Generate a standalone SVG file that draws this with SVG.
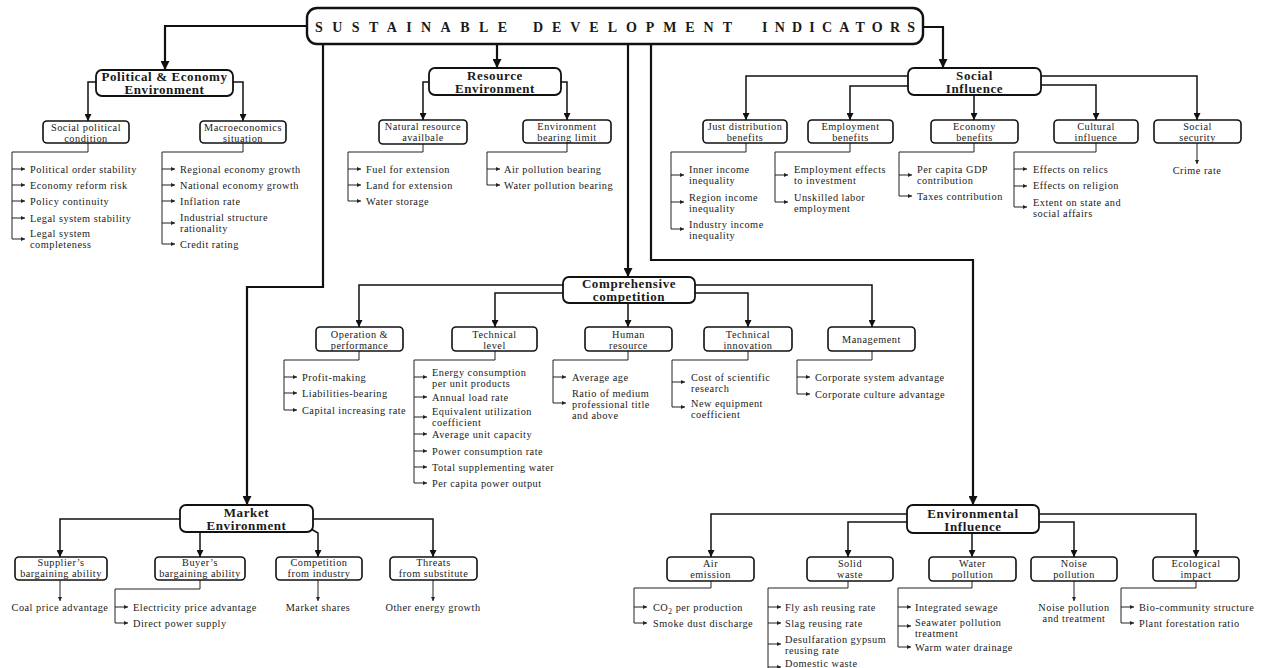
<svg xmlns="http://www.w3.org/2000/svg" width="1265" height="668" viewBox="0 0 1265 668">
<style>
.box{fill:#fff;stroke:#111;stroke-width:1.6}
.cat{stroke-width:1.8}
.rootb{stroke-width:2.4}
.c1{fill:none;stroke:#111;stroke-width:2.2}
.c2{fill:none;stroke:#111;stroke-width:1.5}
.c3{fill:none;stroke:#222;stroke-width:1}
text{font-family:"Liberation Serif","Times New Roman",serif;fill:#1a1a1a}
.t{font-size:10.3px;letter-spacing:0.5px}
.s{font-size:10.3px;letter-spacing:0.5px;text-anchor:middle}
.m{font-size:10.3px;letter-spacing:0.5px;text-anchor:middle}
.b{font-size:13px;font-weight:bold;letter-spacing:0.6px;text-anchor:middle}
.rt{font-size:14px;font-weight:bold}
</style>
<defs>
<marker id="aL" viewBox="0 0 10 10" refX="10" refY="5" markerWidth="9" markerHeight="9" markerUnits="userSpaceOnUse" orient="auto"><path d="M0,0 L10,5 L0,10 z" fill="#111"/></marker>
<marker id="aM" viewBox="0 0 10 10" refX="10" refY="5" markerWidth="7" markerHeight="7" markerUnits="userSpaceOnUse" orient="auto"><path d="M0,0 L10,5 L0,10 z" fill="#111"/></marker>
<marker id="aS" viewBox="0 0 10 10" refX="10" refY="5" markerWidth="4.5" markerHeight="4.5" markerUnits="userSpaceOnUse" orient="auto"><path d="M0,0 L10,5 L0,10 z" fill="#222"/></marker>
</defs>
<rect width="1265" height="668" fill="#fff"/>

<g id="connectors">
<path class="c1" marker-end="url(#aL)" d="M307,26 H165 V70"/>
<path class="c1" marker-end="url(#aL)" d="M497,44 V68"/>
<path class="c1" marker-end="url(#aL)" d="M923,27 H943 V68"/>
<path class="c1" marker-end="url(#aL)" d="M323,44 V287 H247 V505"/>
<path class="c1" marker-end="url(#aL)" d="M628,44 V277"/>
<path class="c1" marker-end="url(#aL)" d="M651,44 V260 H973 V505"/>
<path class="c2" marker-end="url(#aM)" d="M96,82 H88 V121"/>
<path class="c2" marker-end="url(#aM)" d="M233,82 H243 V121"/>
<path class="c2" marker-end="url(#aM)" d="M429,82 H423 V120"/>
<path class="c2" marker-end="url(#aM)" d="M561,82 H567 V120"/>
<path class="c2" marker-end="url(#aM)" d="M908,76 H746 V120"/>
<path class="c2" marker-end="url(#aM)" d="M908,86 H850 V120"/>
<path class="c2" marker-end="url(#aM)" d="M974,95 V120"/>
<path class="c2" marker-end="url(#aM)" d="M1041,76 H1197 V120"/>
<path class="c2" marker-end="url(#aM)" d="M1041,85 H1096 V120"/>
<path class="c2" marker-end="url(#aM)" d="M563,285 H359 V327"/>
<path class="c2" marker-end="url(#aM)" d="M563,293 H495 V327"/>
<path class="c2" marker-end="url(#aM)" d="M628,303 V327"/>
<path class="c2" marker-end="url(#aM)" d="M695,285 H872 V327"/>
<path class="c2" marker-end="url(#aM)" d="M695,293 H748 V327"/>
<path class="c2" marker-end="url(#aM)" d="M180,519 H60 V557"/>
<path class="c2" marker-end="url(#aM)" d="M200,532 V557"/>
<path class="c2" marker-end="url(#aM)" d="M313,519 H433 V557"/>
<path class="c2" marker-end="url(#aM)" d="M311,529 L318,533 V557"/>
<path class="c2" marker-end="url(#aM)" d="M907,514 H711 V557"/>
<path class="c2" marker-end="url(#aM)" d="M907,522 H848 V557"/>
<path class="c2" marker-end="url(#aM)" d="M972,533 V557"/>
<path class="c2" marker-end="url(#aM)" d="M1039,514 H1196 V557"/>
<path class="c2" marker-end="url(#aM)" d="M1039,522 H1074 V557"/>
<path class="c3" d="M88,143 V152 H12 V239"/>
<path class="c3" marker-end="url(#aS)" d="M12,169 H25"/>
<path class="c3" marker-end="url(#aS)" d="M12,185 H25"/>
<path class="c3" marker-end="url(#aS)" d="M12,201 H25"/>
<path class="c3" marker-end="url(#aS)" d="M12,218 H25"/>
<path class="c3" marker-end="url(#aS)" d="M12,239 H25"/>
<path class="c3" d="M243,143 V152 H162 V244"/>
<path class="c3" marker-end="url(#aS)" d="M162,169 H175"/>
<path class="c3" marker-end="url(#aS)" d="M162,185 H175"/>
<path class="c3" marker-end="url(#aS)" d="M162,201 H175"/>
<path class="c3" marker-end="url(#aS)" d="M162,223 H175"/>
<path class="c3" marker-end="url(#aS)" d="M162,244 H175"/>
<path class="c3" d="M423,144 V152 H348 V201"/>
<path class="c3" marker-end="url(#aS)" d="M348,169 H361"/>
<path class="c3" marker-end="url(#aS)" d="M348,185 H361"/>
<path class="c3" marker-end="url(#aS)" d="M348,201 H361"/>
<path class="c3" d="M567,143 V152 H487 V185"/>
<path class="c3" marker-end="url(#aS)" d="M487,169 H500"/>
<path class="c3" marker-end="url(#aS)" d="M487,185 H500"/>
<path class="c3" d="M746,143 V152 H671 V229"/>
<path class="c3" marker-end="url(#aS)" d="M671,175 H684"/>
<path class="c3" marker-end="url(#aS)" d="M671,202 H684"/>
<path class="c3" marker-end="url(#aS)" d="M671,229 H684"/>
<path class="c3" d="M850,143 V152 H775 V202"/>
<path class="c3" marker-end="url(#aS)" d="M775,175 H788"/>
<path class="c3" marker-end="url(#aS)" d="M775,202 H788"/>
<path class="c3" d="M974,143 V152 H899 V196"/>
<path class="c3" marker-end="url(#aS)" d="M899,175 H912"/>
<path class="c3" marker-end="url(#aS)" d="M899,196 H912"/>
<path class="c3" d="M1096,143 V152 H1014 V207"/>
<path class="c3" marker-end="url(#aS)" d="M1014,169 H1027"/>
<path class="c3" marker-end="url(#aS)" d="M1014,186 H1027"/>
<path class="c3" marker-end="url(#aS)" d="M1014,207 H1027"/>
<path class="c3" marker-end="url(#aS)" d="M1197,143 V164"/>
<path class="c3" d="M359,351 V360 H284 V410"/>
<path class="c3" marker-end="url(#aS)" d="M284,377 H297"/>
<path class="c3" marker-end="url(#aS)" d="M284,393 H297"/>
<path class="c3" marker-end="url(#aS)" d="M284,410 H297"/>
<path class="c3" d="M495,351 V360 H414 V483"/>
<path class="c3" marker-end="url(#aS)" d="M414,377 H427"/>
<path class="c3" marker-end="url(#aS)" d="M414,397 H427"/>
<path class="c3" marker-end="url(#aS)" d="M414,417 H427"/>
<path class="c3" marker-end="url(#aS)" d="M414,434 H427"/>
<path class="c3" marker-end="url(#aS)" d="M414,451 H427"/>
<path class="c3" marker-end="url(#aS)" d="M414,467 H427"/>
<path class="c3" marker-end="url(#aS)" d="M414,483 H427"/>
<path class="c3" d="M628,351 V360 H553 V403"/>
<path class="c3" marker-end="url(#aS)" d="M553,377 H566"/>
<path class="c3" marker-end="url(#aS)" d="M553,403 H566"/>
<path class="c3" d="M748,351 V360 H672 V407"/>
<path class="c3" marker-end="url(#aS)" d="M672,382 H685"/>
<path class="c3" marker-end="url(#aS)" d="M672,407 H685"/>
<path class="c3" d="M872,351 V360 H797 V394"/>
<path class="c3" marker-end="url(#aS)" d="M797,377 H810"/>
<path class="c3" marker-end="url(#aS)" d="M797,394 H810"/>
<path class="c3" marker-end="url(#aS)" d="M60,580 V601"/>
<path class="c3" d="M200,580 V589 H115 V623"/>
<path class="c3" marker-end="url(#aS)" d="M115,607 H128"/>
<path class="c3" marker-end="url(#aS)" d="M115,623 H128"/>
<path class="c3" marker-end="url(#aS)" d="M318,580 V601"/>
<path class="c3" marker-end="url(#aS)" d="M433,580 V601"/>
<path class="c3" d="M711,581 V588 H634 V623"/>
<path class="c3" marker-end="url(#aS)" d="M634,607 H647"/>
<path class="c3" marker-end="url(#aS)" d="M634,623 H647"/>
<path class="c3" d="M848,581 V588 H768 V668"/>
<path class="c3" marker-end="url(#aS)" d="M768,607 H781"/>
<path class="c3" marker-end="url(#aS)" d="M768,623 H781"/>
<path class="c3" marker-end="url(#aS)" d="M768,644 H781"/>
<path class="c3" marker-end="url(#aS)" d="M768,667 H781"/>
<path class="c3" d="M972,581 V588 H898 V647"/>
<path class="c3" marker-end="url(#aS)" d="M898,607 H911"/>
<path class="c3" marker-end="url(#aS)" d="M898,626 H911"/>
<path class="c3" marker-end="url(#aS)" d="M898,647 H911"/>
<path class="c3" marker-end="url(#aS)" d="M1074,581 V601"/>
<path class="c3" d="M1196,581 V588 H1121 V623"/>
<path class="c3" marker-end="url(#aS)" d="M1121,607 H1134"/>
<path class="c3" marker-end="url(#aS)" d="M1121,623 H1134"/>
</g>

<g id="root">
<rect class="box rootb" x="307" y="8" width="616" height="36" rx="10"/>
<text class="rt" x="315" y="32" textLength="192" lengthAdjust="spacing">SUSTAINABLE</text>
<text class="rt" x="533" y="32" textLength="199" lengthAdjust="spacing">DEVELOPMENT</text>
<text class="rt" x="762" y="32" textLength="153" lengthAdjust="spacing">INDICATORS</text>
</g>

<g id="political">
<rect class="box cat" x="96" y="70" width="137" height="26" rx="6"/>
<text class="b" x="164.5" y="81">Political &amp; Economy</text>
<text class="b" x="164.5" y="94">Environment</text>
</g>
<g id="resource">
<rect class="box cat" x="429" y="68" width="132" height="27" rx="6"/>
<text class="b" x="495" y="80">Resource</text>
<text class="b" x="495" y="93">Environment</text>
</g>
<g id="social">
<rect class="box cat" x="908" y="68" width="133" height="27" rx="6"/>
<text class="b" x="974.5" y="80">Social</text>
<text class="b" x="974.5" y="93">Influence</text>
</g>
<g id="comprehensive">
<rect class="box cat" x="563" y="277" width="132" height="26" rx="6"/>
<text class="b" x="629" y="288">Comprehensive</text>
<text class="b" x="629" y="301">competition</text>
</g>
<g id="market">
<rect class="box cat" x="180" y="505" width="133" height="27" rx="6"/>
<text class="b" x="246.5" y="517">Market</text>
<text class="b" x="246.5" y="530">Environment</text>
</g>
<g id="environmental">
<rect class="box cat" x="907" y="505" width="132" height="28" rx="6"/>
<text class="b" x="973" y="517.5">Environmental</text>
<text class="b" x="973" y="530.5">Influence</text>
</g>

<g id="social-political">
<rect class="box" x="43" y="121" width="86" height="22" rx="4"/>
<text class="s" x="86" y="130.5">Social political</text>
<text class="s" x="86" y="141.5">condition</text>
<text class="t" x="30" y="172.5">Political order stability</text>
<text class="t" x="30" y="188.5">Economy reform risk</text>
<text class="t" x="30" y="204.5">Policy continuity</text>
<text class="t" x="30" y="221.5">Legal system stability</text>
<text class="t" x="30" y="236.5">Legal system</text>
<text class="t" x="30" y="247.5">completeness</text>
</g>
<g id="macroeconomics">
<rect class="box" x="200" y="121" width="86" height="22" rx="4"/>
<text class="s" x="243" y="130.5">Macroeconomics</text>
<text class="s" x="243" y="141.5">situation</text>
<text class="t" x="180" y="172.5">Regional economy growth</text>
<text class="t" x="180" y="188.5">National economy growth</text>
<text class="t" x="180" y="204.5">Inflation rate</text>
<text class="t" x="180" y="221">Industrial structure</text>
<text class="t" x="180" y="232">rationality</text>
<text class="t" x="180" y="247.5">Credit rating</text>
</g>
<g id="natural-resource">
<rect class="box" x="379" y="120" width="88" height="24" rx="4"/>
<text class="s" x="423" y="130">Natural resource</text>
<text class="s" x="423" y="141">availbale</text>
<text class="t" x="366" y="172.5">Fuel for extension</text>
<text class="t" x="366" y="188.5">Land for extension</text>
<text class="t" x="366" y="204.5">Water storage</text>
</g>
<g id="environment-bearing">
<rect class="box" x="523" y="120" width="88" height="23" rx="4"/>
<text class="s" x="567" y="130">Environment</text>
<text class="s" x="567" y="141">bearing limit</text>
<text class="t" x="504" y="172.5">Air pollution bearing</text>
<text class="t" x="504" y="188.5">Water pollution bearing</text>
</g>
<g id="just-distribution">
<rect class="box" x="703" y="120" width="84" height="23" rx="4"/>
<text class="s" x="745" y="130">Just distribution</text>
<text class="s" x="745" y="141">benefits</text>
<text class="t" x="689" y="172.5">Inner income</text>
<text class="t" x="689" y="183.5">inequality</text>
<text class="t" x="689" y="200.5">Region income</text>
<text class="t" x="689" y="211.5">inequality</text>
<text class="t" x="689" y="227.5">Industry income</text>
<text class="t" x="689" y="238.5">inequality</text>
</g>
<g id="employment">
<rect class="box" x="808" y="120" width="85" height="23" rx="4"/>
<text class="s" x="850.5" y="130">Employment</text>
<text class="s" x="850.5" y="141">benefits</text>
<text class="t" x="794" y="172.5">Employment effects</text>
<text class="t" x="794" y="183.5">to investment</text>
<text class="t" x="794" y="200.5">Unskilled labor</text>
<text class="t" x="794" y="211.5">employment</text>
</g>
<g id="economy">
<rect class="box" x="931" y="120" width="87" height="23" rx="4"/>
<text class="s" x="974.5" y="130">Economy</text>
<text class="s" x="974.5" y="141">benefits</text>
<text class="t" x="917" y="172.5">Per capita GDP</text>
<text class="t" x="917" y="183.5">contribution</text>
<text class="t" x="917" y="199.5">Taxes contribution</text>
</g>
<g id="cultural">
<rect class="box" x="1054" y="120" width="84" height="23" rx="4"/>
<text class="s" x="1096" y="130">Cultural</text>
<text class="s" x="1096" y="141">influence</text>
<text class="t" x="1033" y="172.5">Effects on relics</text>
<text class="t" x="1033" y="189">Effects on religion</text>
<text class="t" x="1033" y="205.5">Extent on state and</text>
<text class="t" x="1033" y="216.5">social affairs</text>
</g>
<g id="social-security">
<rect class="box" x="1154" y="120" width="87" height="23" rx="4"/>
<text class="s" x="1197.5" y="130">Social</text>
<text class="s" x="1197.5" y="141">security</text>
<text class="m" x="1197" y="173.5">Crime rate</text>
</g>

<g id="operation">
<rect class="box" x="316" y="327" width="87" height="24" rx="4"/>
<text class="s" x="359.5" y="337.5">Operation &amp;</text>
<text class="s" x="359.5" y="348.5">performance</text>
<text class="t" x="302" y="380.5">Profit-making</text>
<text class="t" x="302" y="396.5">Liabilities-bearing</text>
<text class="t" x="302" y="413.5">Capital increasing rate</text>
</g>
<g id="technical-level">
<rect class="box" x="452" y="327" width="85" height="24" rx="4"/>
<text class="s" x="494.5" y="337.5">Technical</text>
<text class="s" x="494.5" y="348.5">level</text>
<text class="t" x="432" y="375.5">Energy consumption</text>
<text class="t" x="432" y="386.5">per unit products</text>
<text class="t" x="432" y="400.5">Annual load rate</text>
<text class="t" x="432" y="415">Equivalent utilization</text>
<text class="t" x="432" y="426">coefficient</text>
<text class="t" x="432" y="437.5">Average unit capacity</text>
<text class="t" x="432" y="454.5">Power consumption rate</text>
<text class="t" x="432" y="470.5">Total supplementing water</text>
<text class="t" x="432" y="486.5">Per capita power output</text>
</g>
<g id="human-resource">
<rect class="box" x="585" y="327" width="87" height="24" rx="4"/>
<text class="s" x="628.5" y="337.5">Human</text>
<text class="s" x="628.5" y="348.5">resource</text>
<text class="t" x="572" y="380.5">Average age</text>
<text class="t" x="572" y="396.5">Ratio of medium</text>
<text class="t" x="572" y="407.5">professional title</text>
<text class="t" x="572" y="418.5">and above</text>
</g>
<g id="technical-innovation">
<rect class="box" x="704" y="327" width="88" height="24" rx="4"/>
<text class="s" x="748" y="337.5">Technical</text>
<text class="s" x="748" y="348.5">innovation</text>
<text class="t" x="691" y="380.5">Cost of scientific</text>
<text class="t" x="691" y="391.5">research</text>
<text class="t" x="691" y="406.5">New equipment</text>
<text class="t" x="691" y="417.5">coefficient</text>
</g>
<g id="management">
<rect class="box" x="828" y="327" width="87" height="24" rx="4"/>
<text class="s" x="871.5" y="342.5">Management</text>
<text class="t" x="815" y="380.5">Corporate system advantage</text>
<text class="t" x="815" y="397.5">Corporate culture advantage</text>
</g>

<g id="supplier">
<rect class="box" x="15" y="557" width="92" height="23" rx="4"/>
<text class="s" x="61" y="566">Supplier’s</text>
<text class="s" x="61" y="577">bargaining ability</text>
<text class="m" x="60" y="611">Coal price advantage</text>
</g>
<g id="buyer">
<rect class="box" x="155" y="557" width="90" height="23" rx="4"/>
<text class="s" x="200" y="566">Buyer’s</text>
<text class="s" x="200" y="577">bargaining ability</text>
<text class="t" x="133" y="611">Electricity price advantage</text>
<text class="t" x="133" y="627">Direct power supply</text>
</g>
<g id="competition">
<rect class="box" x="276" y="557" width="86" height="23" rx="4"/>
<text class="s" x="319" y="566">Competition</text>
<text class="s" x="319" y="577">from industry</text>
<text class="m" x="318" y="611">Market shares</text>
</g>
<g id="threats">
<rect class="box" x="390" y="557" width="87" height="23" rx="4"/>
<text class="s" x="433.5" y="566">Threats</text>
<text class="s" x="433.5" y="577">from substitute</text>
<text class="m" x="433" y="611">Other energy growth</text>
</g>

<g id="air-emission">
<rect class="box" x="667" y="557" width="87" height="24" rx="4"/>
<text class="s" x="710.5" y="567">Air</text>
<text class="s" x="710.5" y="578">emission</text>
<text class="t" x="653" y="611">CO<tspan font-size="7.5" dy="2.5">2</tspan><tspan dy="-2.5"> per production</tspan></text>
<text class="t" x="653" y="627">Smoke dust discharge</text>
</g>
<g id="solid-waste">
<rect class="box" x="807" y="557" width="86" height="24" rx="4"/>
<text class="s" x="850" y="567">Solid</text>
<text class="s" x="850" y="578">waste</text>
<text class="t" x="785" y="611">Fly ash reusing rate</text>
<text class="t" x="785" y="627">Slag reusing rate</text>
<text class="t" x="785" y="642.5">Desulfaration gypsum</text>
<text class="t" x="785" y="653.5">reusing rate</text>
<text class="t" x="785" y="667">Domestic waste</text>
</g>
<g id="water-pollution">
<rect class="box" x="929" y="557" width="87" height="24" rx="4"/>
<text class="s" x="972.5" y="567">Water</text>
<text class="s" x="972.5" y="578">pollution</text>
<text class="t" x="915" y="611">Integrated sewage</text>
<text class="t" x="915" y="626">Seawater pollution</text>
<text class="t" x="915" y="637">treatment</text>
<text class="t" x="915" y="651">Warm water drainage</text>
</g>
<g id="noise-pollution">
<rect class="box" x="1031" y="557" width="86" height="24" rx="4"/>
<text class="s" x="1074" y="567">Noise</text>
<text class="s" x="1074" y="578">pollution</text>
<text class="m" x="1074" y="611">Noise pollution</text>
<text class="m" x="1074" y="622">and treatment</text>
</g>
<g id="ecological">
<rect class="box" x="1153" y="557" width="86" height="24" rx="4"/>
<text class="s" x="1196" y="567">Ecological</text>
<text class="s" x="1196" y="578">impact</text>
<text class="t" x="1139" y="611">Bio-community structure</text>
<text class="t" x="1139" y="627">Plant forestation ratio</text>
</g>
</svg>
